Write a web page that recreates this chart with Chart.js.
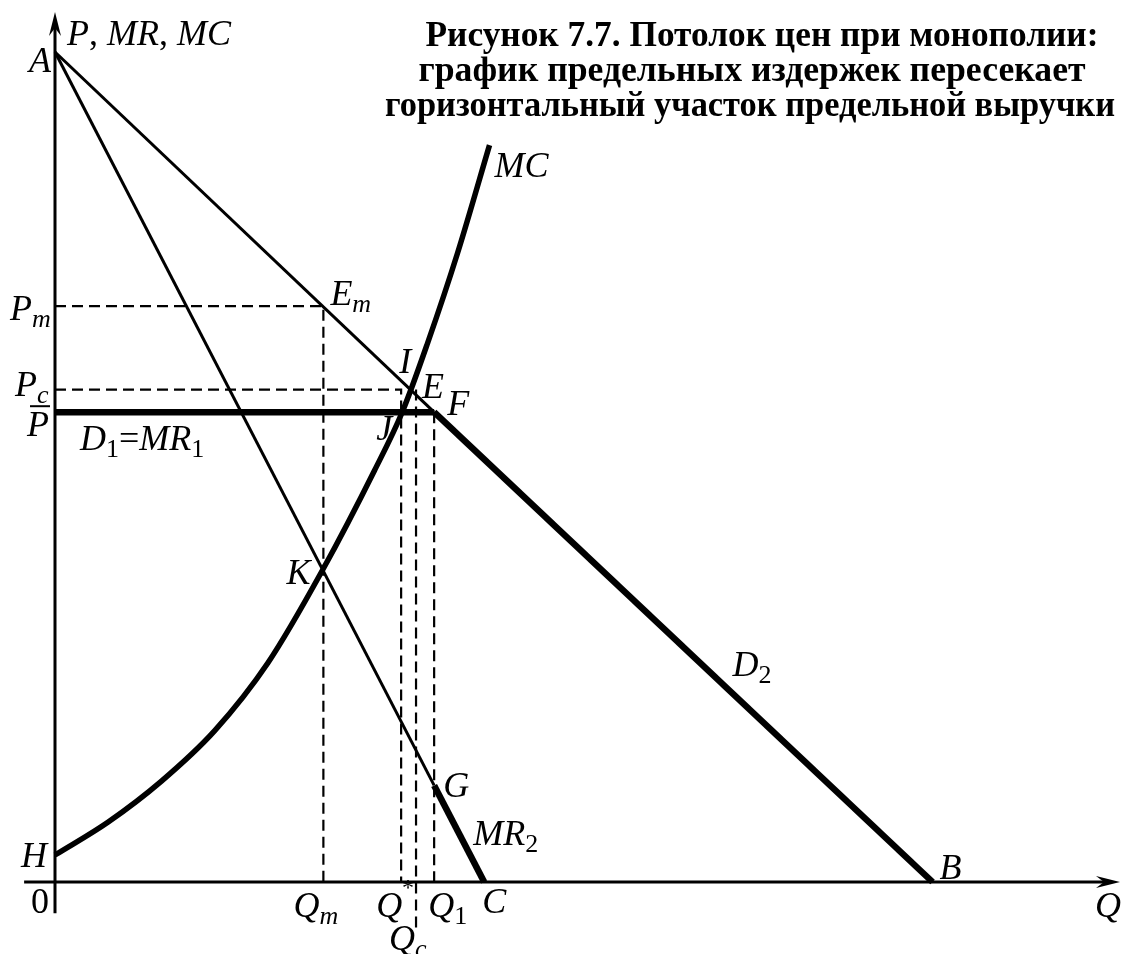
<!DOCTYPE html>
<html>
<head>
<meta charset="utf-8">
<script src="https://cdn.jsdelivr.net/npm/chart.js@4.4.1/dist/chart.umd.min.js"></script>
<style>
html,body{margin:0;padding:0;background:#fff;}
#wrap{position:relative;width:1125px;height:954px;}
</style>
</head>
<body>
<div id="wrap"><canvas id="myChart" width="1125" height="954"></canvas></div>
<script>
// key values (Q along x, P along y)
var A=95.4, B=82.4, C=40.3, H=3.1;
var Qm=25.2, Qstar=32.5, Qc=33.9, Q1=35.6;
var Pm=66.2, Pc=56.6, Pbar=54, PG=11.1, PK=35.8;

// MC curve points
var mcQ=[0, 5, 10, 15, 20, 25.1, 30, 32.6, 35, 37.8, 40.8];
var mcP=[3.1, 6.9, 11.6, 17.4, 25.2, 35.8, 47.3, 54.0, 62.0, 72.3, 84.7];

var titleLines=["Рисунок 7.7. Потолок цен при монополии:",
                "график предельных издержек пересекает",
                "горизонтальный участок предельной выручки"];

var pxQ=10.65, pxP=8.7; // scale of the drawing

function pts(q,p){var r=[];for(var i=0;i<q.length;i++)r.push({x:q[i],y:p[i]});return r;}

function line(data,w,dash,extra)
{
  var d={data:data,showLine:true,borderColor:'#000',borderWidth:w,pointRadius:0,
         borderDash:dash||[],fill:false,tension:0,borderCapStyle:'butt'};
  for(var k in extra) d[k]=extra[k];
  return d;
}

var datasets=[
  // dashed guides
  line(pts([0,Qm,Qm],[Pm,Pm,0]),2.2,[11,6]),
  line(pts([0,Qstar,Qstar],[Pc,Pc,0]),2.2,[11,6]),
  line(pts([Qc,Qc],[Pc,-5.9]),2.2,[11,6]),
  line(pts([Q1,Q1],[Pbar,0]),2.2,[11,6]),
  // demand D2 and MR
  line(pts([0,Q1],[A,Pbar]),3),
  line(pts([Q1,B],[Pbar,0]),6.5),
  line(pts([0,Q1],[A,PG]),3),
  line(pts([Q1,C],[PG,0]),6.5),
  // ceiling D1=MR1
  line(pts([0,Q1],[Pbar,Pbar]),6.5),
  // MC
  line(pts(mcQ,mcP),5.5,null,{cubicInterpolationMode:'monotone'})
];

var SERIF='"Liberation Serif","Times New Roman",serif';

function rich(ctx,x,y,parts)
{
  // parts: [text, style]  i=italic, n=normal, is=italic sub, ns=normal sub, sup=superscript
  for(var i=0;i<parts.length;i++)
  {
    var t=parts[i][0], s=parts[i][1], dy=0;
    if(s=='i') ctx.font='italic 36px '+SERIF;
    else if(s=='n') ctx.font='36px '+SERIF;
    else if(s=='is'){ctx.font='italic 26px '+SERIF;dy=7;}
    else if(s=='ns'){ctx.font='26px '+SERIF;dy=7;}
    else if(s=='sup'){ctx.font='24px '+SERIF;dy=-22;}
    ctx.fillText(t,x,y+dy);
    x+=ctx.measureText(t).width;
  }
}

function arrow(ctx,x,y,dir)
{
  ctx.save();
  ctx.translate(x,y);
  ctx.rotate(dir);
  ctx.beginPath();
  ctx.moveTo(0,0);
  ctx.lineTo(-24,-6);
  ctx.lineTo(-16,0);
  ctx.lineTo(-24,6);
  ctx.closePath();
  ctx.fill();
  ctx.restore();
}

var drawing={
  id:'drawing',
  beforeDatasetsDraw:function(chart)
  {
    var ctx=chart.ctx, xs=chart.scales.x, ys=chart.scales.y;
    var X=function(v){return xs.getPixelForValue(v);}, Y=function(v){return ys.getPixelForValue(v);};
    ctx.save();
    ctx.strokeStyle='#000';ctx.fillStyle='#000';ctx.lineWidth=3;
    // axes
    ctx.beginPath();
    ctx.moveTo(X(0),Y(-3.6));ctx.lineTo(X(0),Y(100)+10);
    ctx.moveTo(X(-2.9),Y(0));ctx.lineTo(X(100)-10,Y(0));
    ctx.stroke();
    arrow(ctx,X(0),Y(100),-Math.PI/2);
    arrow(ctx,X(100),Y(0),0);
    ctx.restore();
  },
  afterDatasetsDraw:function(chart)
  {
    var ctx=chart.ctx, xs=chart.scales.x, ys=chart.scales.y;
    var X=function(v){return xs.getPixelForValue(v);}, Y=function(v){return ys.getPixelForValue(v);};
    ctx.save();
    ctx.fillStyle='#000';ctx.strokeStyle='#000';
    ctx.textBaseline='alphabetic';ctx.textAlign='left';

    rich(ctx,X(0)+12,Y(100)+33,[['P','i'],[', ','n'],['MR','i'],[', ','n'],['MC','i']]);
    rich(ctx,X(0)-26,Y(A)+20,[['A','i']]);
    rich(ctx,X(mcQ[mcQ.length-1])+5,Y(mcP[mcP.length-1])+32,[['MC','i']]);
    rich(ctx,X(Qm)+7,Y(Pm)-1,[['E','i'],['m','is']]);
    rich(ctx,X(Qstar)-2,Y(Pc)-17,[['I','i']]);
    rich(ctx,X(Qc)+6,Y(Pc)+8,[['E','i']]);
    rich(ctx,X(Q1)+13,Y(Pbar)+3,[['F','i']]);
    rich(ctx,X(Qstar)-25,Y(Pbar)+28,[['J','i']]);
    rich(ctx,X(0)-45,Y(Pm)+14,[['P','i'],['m','is']]);
    rich(ctx,X(0)-40,Y(Pc)+6,[['P','i'],['c','is']]);
    rich(ctx,X(0)-28,Y(Pbar)+24,[['P','i']]);
    ctx.lineWidth=2;
    ctx.beginPath();ctx.moveTo(X(0)-25,Y(Pbar)-6);ctx.lineTo(X(0)-5,Y(Pbar)-6);ctx.stroke();
    rich(ctx,X(0)+25,Y(Pbar)+38,[['D','i'],['1','ns'],['=','n'],['MR','i'],['1','ns']]);
    rich(ctx,X(Qm)-37,Y(PK)+13,[['K','i']]);
    rich(ctx,X(B)-200,Y(0)-206,[['D','i'],['2','ns']]);
    rich(ctx,X(Q1)+9,Y(PG)+12,[['G','i']]);
    rich(ctx,X(C)-11,Y(0)-37,[['MR','i'],['2','ns']]);
    rich(ctx,X(Qm)-30,Y(0)+35,[['Q','i'],['m','is']]);
    rich(ctx,X(Qstar)-25,Y(0)+35,[['Q','i'],['*','sup']]);
    rich(ctx,X(Q1)-6,Y(0)+35,[['Q','i'],['1','ns']]);
    rich(ctx,X(C)-2,Y(0)+31,[['C','i']]);
    rich(ctx,X(Qc)-27,Y(0)+68,[['Q','i'],['c','is']]);
    rich(ctx,X(0)-34,Y(H)+12,[['H','i']]);
    rich(ctx,X(0)-24,Y(0)+31,[['0','n']]);
    rich(ctx,X(B)+7,Y(0)-3,[['B','i']]);
    rich(ctx,X(100)-25,Y(0)+35,[['Q','i']]);

    // title
    ctx.font='bold 36px '+SERIF;
    ctx.textAlign='center';
    var widths=[673,667,730], cx=[762,752,750], by=[46,81,116];
    for(var i=0;i<titleLines.length;i++)
      ctx.fillText(titleLines[i],cx[i],by[i],widths[i]);
    ctx.restore();
  }
};

var ctx=document.getElementById("myChart");
var myChart=new Chart(ctx,{
  type:'scatter',
  data:{datasets:datasets},
  options:{
    responsive:false,
    animation:false,
    devicePixelRatio:1,
    layout:{padding:0,autoPadding:false},
    scales:{
      x:{type:'linear',display:false,min:-55/pxQ,max:1070/pxQ},
      y:{type:'linear',display:false,min:-72/pxP,max:882/pxP}
    },
    plugins:{legend:{display:false},tooltip:{enabled:false},title:{display:false}},
    elements:{line:{borderJoinStyle:'miter'}}
  },
  plugins:[drawing]
});
</script>
</body>
</html>
